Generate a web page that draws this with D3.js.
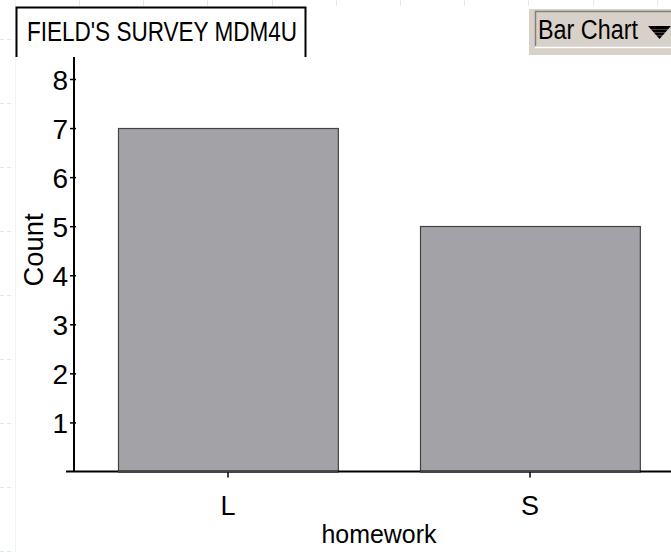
<!DOCTYPE html>
<html>
<head>
<meta charset="utf-8">
<script src="https://cdn.jsdelivr.net/npm/d3@7"></script>
<style>
  html, body { margin: 0; padding: 0; background: #fff; }
  svg { display: block; font-family: "Liberation Sans", Arial, sans-serif; }
</style>
</head>
<body>
<svg id="chart" width="671" height="552"></svg>
<script>
const categories = ["L", "S"];
const counts = [7, 5];
const yTicks = [1, 2, 3, 4, 5, 6, 7, 8];
const titleText = "FIELD'S SURVEY MDM4U";
const xLabel = "homework";
const yLabel = "Count";
const buttonText = "Bar Chart";

const svg = d3.select("#chart");
const W = 671, H = 552;

// faint slide background marks
const bg = svg.append("g").attr("stroke", "#e3e6f7").attr("stroke-width", 1);
bg.append("line").attr("x1", 15.5).attr("x2", 15.5).attr("y1", 0).attr("y2", H).attr("stroke", "#f1f2fb");
d3.range(39, H + 1, 64).forEach(y => {
  bg.append("line").attr("x1", 0).attr("x2", 14).attr("y1", y + 0.5).attr("y2", y + 0.5)
    .attr("stroke-dasharray", "4,3");
});
d3.range(79, W, 64.2).forEach(x => {
  bg.append("line").attr("x1", Math.round(x) + 0.5).attr("x2", Math.round(x) + 0.5).attr("y1", 0).attr("y2", 6);
});

// scales
const x = d3.scaleBand().domain(categories).range([77, 681]).paddingInner(0.272).paddingOuter(0.136);
const y = d3.scaleLinear().domain([0, 8]).range([471.5, 79]);

// bars
svg.append("g").selectAll("rect").data(categories).join("rect")
  .attr("x", d => Math.round(x(d)) + 0.5)
  .attr("y", (d, i) => Math.round(y(counts[i])) + 0.5)
  .attr("width", x.bandwidth())
  .attr("height", (d, i) => y(0) - Math.round(y(counts[i])))
  .attr("fill", "#a3a2a6")
  .attr("stroke", "#444")
  .attr("stroke-width", 1.2);

// y axis
const yAxis = svg.append("g").attr("transform", "translate(74,0)")
  .call(d3.axisLeft(y).tickValues(yTicks).tickSize(4).tickSizeOuter(0).tickFormat(d3.format("d")));
yAxis.select(".domain").remove();
yAxis.append("line").attr("x1", 0).attr("x2", 0).attr("y1", 57).attr("y2", 472).attr("stroke", "#000").attr("stroke-width", 2);
yAxis.selectAll(".tick line").attr("x1", -4).attr("x2", 2).attr("stroke", "#000").attr("stroke-width", 1.5);
yAxis.selectAll(".tick text").attr("x", -6).attr("dy", "0.37em")
  .attr("font-size", 28).attr("fill", "#000")
  .attr("font-family", "'Liberation Sans', Arial, sans-serif");

// x axis
const xAxis = svg.append("g").attr("transform", "translate(0,471.5)")
  .call(d3.axisBottom(x).tickSize(6).tickSizeOuter(0));
xAxis.select(".domain").remove();
xAxis.insert("line", ":first-child").attr("x1", 66).attr("x2", W).attr("y1", 0).attr("y2", 0)
  .attr("stroke", "#000").attr("stroke-width", 2);
xAxis.selectAll(".tick line").attr("stroke", "#000").attr("stroke-width", 1.5);
xAxis.selectAll(".tick text").attr("y", 0).attr("dy", 43.5)
  .attr("font-size", 27).attr("fill", "#000")
  .attr("font-family", "'Liberation Sans', Arial, sans-serif");
// redraw bar bottoms over baseline
svg.append("g").selectAll("line").data(categories).join("line")
  .attr("x1", d => x(d)).attr("x2", d => x(d) + x.bandwidth())
  .attr("y1", 471.5).attr("y2", 471.5).attr("stroke", "#444").attr("stroke-width", 1.5);

// axis labels
svg.append("text").attr("x", 379).attr("y", 543).attr("text-anchor", "middle")
  .attr("font-size", 26).attr("textLength", 115).attr("lengthAdjust", "spacingAndGlyphs").text(xLabel);
svg.append("text").attr("transform", "translate(43,250) rotate(-90)").attr("text-anchor", "middle")
  .attr("font-size", 27).attr("textLength", 73).attr("lengthAdjust", "spacingAndGlyphs").text(yLabel);

// title box
svg.append("path").attr("d", "M16.5,57 V7.5 H305.5 V57").attr("fill", "none").attr("stroke", "#000").attr("stroke-width", 2);
svg.append("text").attr("x", 27).attr("y", 40.5).attr("font-size", 28)
  .attr("textLength", 270).attr("lengthAdjust", "spacingAndGlyphs").text(titleText);

// button
const b = svg.append("g");
b.append("rect").attr("x", 529).attr("y", 9).attr("width", W - 529).attr("height", 46).attr("fill", "#d8d1c9");
b.append("path").attr("d", `M535.5,46 V11.5 H${W}`).attr("fill", "none").attr("stroke", "#7f7f7f").attr("stroke-width", 1.5);
b.append("line").attr("x1", 535).attr("x2", W).attr("y1", 47.5).attr("y2", 47.5).attr("stroke", "#fff").attr("stroke-width", 1.5);
b.append("text").attr("x", 538).attr("y", 38.5).attr("font-size", 27)
  .attr("textLength", 100).attr("lengthAdjust", "spacingAndGlyphs").text(buttonText);
b.append("path").attr("d", "M648,26 L671,26 L659.5,39 Z").attr("fill", "#000");
b.append("g").attr("stroke", "#d8d1c9").attr("stroke-width", 0.8)
  .selectAll("line").data([29.5, 32.5, 35.5]).join("line")
  .attr("x1", 646).attr("x2", 671).attr("y1", d => d).attr("y2", d => d).attr("opacity", 0.4);
</script>
</body>
</html>
